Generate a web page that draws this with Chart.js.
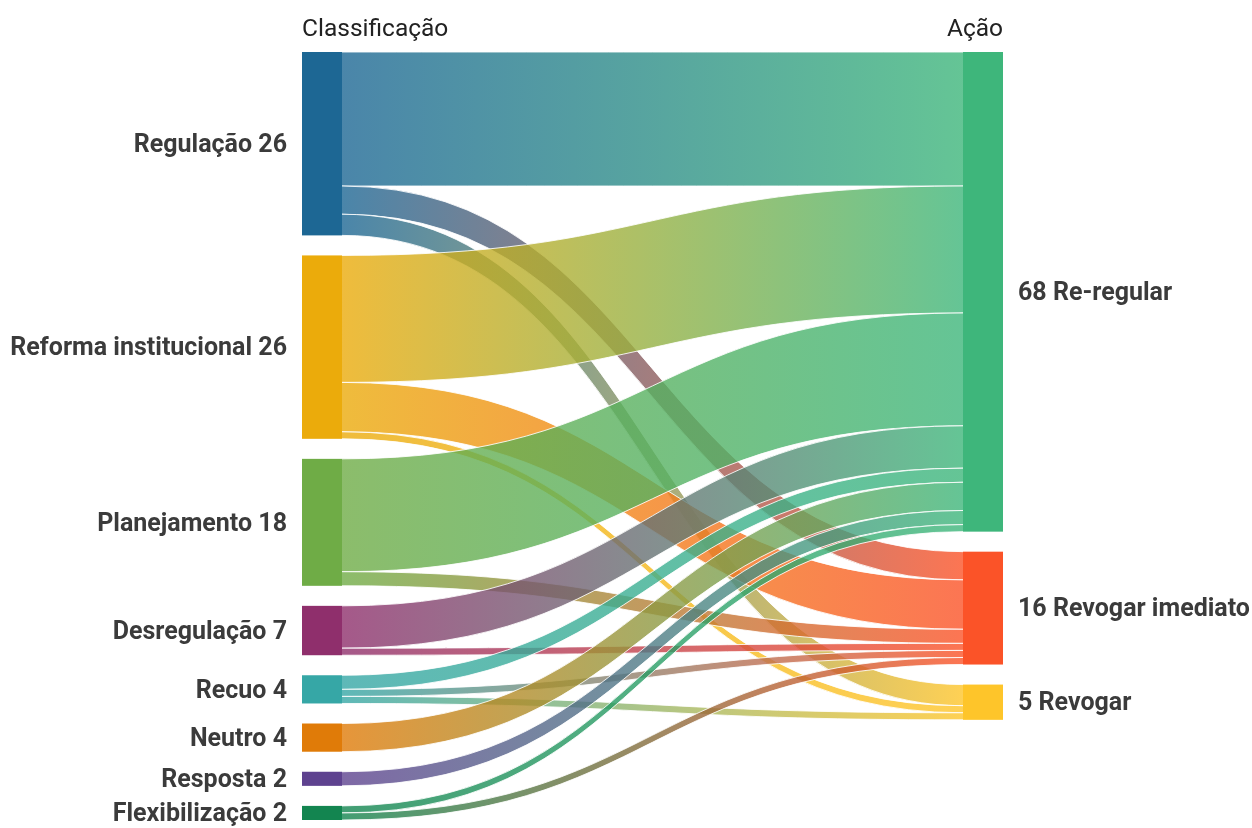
<!DOCTYPE html>
<html>
<head>
<meta charset="utf-8">
<script src="https://cdn.jsdelivr.net/npm/chart.js@4.4.1/dist/chart.umd.min.js"></script>
<style>
  html, body { margin: 0; padding: 0; background: #fff; }
  #wrap { width: 1252px; height: 828px; position: relative; }
</style>
</head>
<body>
<div id="wrap"><canvas id="sankey"></canvas></div>
<script>
// nodes
const leftNodes = ["Regulação", "Reforma institucional", "Planejamento", "Desregulação", "Recuo", "Neutro", "Resposta", "Flexibilização"]
const rightNodes = ["Re-regular", "Revogar imediato", "Revogar"]
const leftTitle = "Classificação"
const rightTitle = "Ação"

// flows (source -> target)
const flowFrom = [
  "Regulação", "Regulação", "Regulação",
  "Reforma institucional", "Reforma institucional", "Reforma institucional",
  "Planejamento", "Planejamento",
  "Desregulação", "Desregulação",
  "Recuo", "Recuo", "Recuo",
  "Neutro",
  "Resposta",
  "Flexibilização", "Flexibilização"
]
const flowTo = [
  "Re-regular", "Revogar imediato", "Revogar",
  "Re-regular", "Revogar imediato", "Revogar",
  "Re-regular", "Revogar imediato",
  "Re-regular", "Revogar imediato",
  "Re-regular", "Revogar imediato", "Revogar",
  "Re-regular",
  "Re-regular",
  "Re-regular", "Revogar imediato"
]
const flowValue = [19, 4, 3, 18, 7, 1, 16, 2, 6, 1, 2, 1, 1, 4, 2, 1, 1]

const leftColors = ["#1d6794", "#ebab0b", "#6fac46", "#8f2f6c", "#36a7a6", "#e07b08", "#5e428f", "#138550"]
const rightColors = ["#3eb67b", "#fb5328", "#fec52a"]

const NODE_W = 40
const GAP = 2.84
const LINK_ALPHA = 0.8

const sum = a => a.reduce((s, v) => s + v, 0)
const leftTotals = leftNodes.map(n => sum(flowValue.filter((v, i) => flowFrom[i] === n)))
const rightTotals = rightNodes.map(n => sum(flowValue.filter((v, i) => flowTo[i] === n)))
const yMax = sum(leftTotals) + GAP * (leftNodes.length - 1)

function stack(totals) {
  let y = 0
  return totals.map(t => { const s = y; y += t + GAP; return s })
}
const leftY = stack(leftTotals)
const rightY = stack(rightTotals)

function rgba(hex, a) {
  const n = parseInt(hex.slice(1), 16)
  return `rgba(${n >> 16},${(n >> 8) & 255},${n & 255},${a})`
}

function drawText(ctx, text, x, y, align, font, color) {
  ctx.save()
  ctx.font = font
  ctx.fillStyle = color
  ctx.textBaseline = "middle"
  ctx.textAlign = align
  ctx.fillText(text, x, y)
  ctx.restore()
}

const sankeyPlugin = {
  id: "sankey",
  afterDatasetsDraw(chart) {
    const { ctx, scales: { x, y } } = chart
    const xl = x.getPixelForValue(0)
    const xr = x.getPixelForValue(1)
    const x0 = xl + NODE_W
    const x1 = xr - NODE_W
    const xm = (x0 + x1) / 2

    // link offsets: at source ordered by target, at target ordered by source
    const srcOff = leftY.slice()
    const tgtOff = rightY.slice()
    const links = []
    leftNodes.forEach((s, si) => {
      rightNodes.forEach((t, ti) => {
        flowValue.forEach((v, i) => {
          if (flowFrom[i] === s && flowTo[i] === t) {
            links.push({ si, ti, v, sy: srcOff[si] })
            srcOff[si] += v
          }
        })
      })
    })
    rightNodes.forEach((t, ti) => {
      links.filter(l => l.ti === ti).forEach(l => {
        l.ty = tgtOff[ti]
        tgtOff[ti] += l.v
      })
    })

    ctx.save()
    links.forEach(l => {
      const a0 = y.getPixelForValue(l.sy)
      const a1 = y.getPixelForValue(l.sy + l.v)
      const b0 = y.getPixelForValue(l.ty)
      const b1 = y.getPixelForValue(l.ty + l.v)
      const g = ctx.createLinearGradient(x0, 0, x1, 0)
      g.addColorStop(0, rgba(leftColors[l.si], LINK_ALPHA))
      g.addColorStop(1, rgba(rightColors[l.ti], LINK_ALPHA))
      ctx.beginPath()
      ctx.moveTo(x0, a0)
      ctx.bezierCurveTo(xm, a0, xm, b0, x1, b0)
      ctx.lineTo(x1, b1)
      ctx.bezierCurveTo(xm, b1, xm, a1, x0, a1)
      ctx.closePath()
      ctx.fillStyle = g
      ctx.fill()
      ctx.strokeStyle = "rgba(255,255,255,0.85)"
      ctx.lineWidth = 1
      ctx.beginPath()
      ctx.moveTo(x0, a0)
      ctx.bezierCurveTo(xm, a0, xm, b0, x1, b0)
      ctx.moveTo(x0, a1)
      ctx.bezierCurveTo(xm, a1, xm, b1, x1, b1)
      ctx.stroke()
    })

    // nodes
    leftNodes.forEach((n, i) => {
      const t = y.getPixelForValue(leftY[i])
      const b = y.getPixelForValue(leftY[i] + leftTotals[i])
      ctx.fillStyle = leftColors[i]
      ctx.fillRect(xl, t, NODE_W, b - t)
      drawText(ctx, `${n} ${leftTotals[i]}`, xl - 15, (t + b) / 2 + 2, "right", "bold 25px Roboto", "#3b3b3b")
    })
    rightNodes.forEach((n, i) => {
      const t = y.getPixelForValue(rightY[i])
      const b = y.getPixelForValue(rightY[i] + rightTotals[i])
      ctx.fillStyle = rightColors[i]
      ctx.fillRect(x1, t, NODE_W, b - t)
      drawText(ctx, `${rightTotals[i]} ${n}`, xr + 15, (t + b) / 2 + 2, "left", "bold 25px Roboto", "#3b3b3b")
    })

    // column titles
    const top = y.getPixelForValue(0)
    drawText(ctx, leftTitle, xl, top - 22, "left", "24.5px Roboto", "#222")
    drawText(ctx, rightTitle, xr, top - 22, "right", "24.5px Roboto", "#222")
    ctx.restore()
  }
}

new Chart(document.getElementById("sankey"), {
  type: "scatter",
  data: { datasets: [{ data: [], pointRadius: 0 }] },
  options: {
    animation: false,
    responsive: true,
    maintainAspectRatio: false,
    layout: { padding: { left: 302, right: 249, top: 52, bottom: 8 } },
    scales: {
      x: { type: "linear", min: 0, max: 1, display: false },
      y: { type: "linear", min: 0, max: yMax, reverse: true, display: false }
    },
    plugins: { legend: { display: false }, tooltip: { enabled: false } }
  },
  plugins: [sankeyPlugin]
})
</script>
</body>
</html>
